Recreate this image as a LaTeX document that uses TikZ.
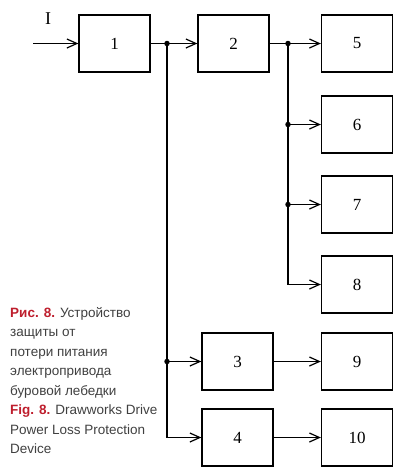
\documentclass[tikz,border=0pt]{standalone}
\usepackage{fontspec}
\setmainfont{Liberation Serif}
\newfontfamily\capfont{Liberation Sans}
\usetikzlibrary{arrows.meta, positioning}
\definecolor{figred}{RGB}{190,30,45}

\begin{document}
\begin{tikzpicture}[x=1pt,y=-1pt,
  blk/.style={draw,line width=1.3pt,minimum width=71pt,minimum height=57pt,inner sep=0pt,font=\fontsize{17}{17}\selectfont},
  arr/.style={-{Straight Barb[length=10pt,width=9pt]},line width=1.2pt},
  jdot/.style={circle,fill,inner sep=0pt,minimum size=5.5pt},
  capt/.style={anchor=north west,align=left,inner sep=0pt,font=\capfont\fontsize{13.5}{19.5}\selectfont,text=black!75}]
\useasboundingbox (0,0) rectangle (400,475);
% blocks
\node[blk] (b1) at (114.5,43.5) {1};
\node[blk] (b2) at (233.5,43.5) {2};
\node[blk] (b5) at (357,43.5) {5};
\node[blk] (b6) at (357,124.5) {6};
\node[blk] (b7) at (357,204.5) {7};
\node[blk] (b8) at (357,284.5) {8};
\node[blk] (b3) at (237.5,361.5) {3};
\node[blk] (b9) at (357,361.5) {9};
\node[blk] (b4) at (237.5,437.5) {4};
\node[blk] (b10) at (357,437.5) {10};
% branch points
\coordinate (in) at (33,43.5);
\node[jdot] (j1) at (167,43.5) {};
\node[jdot] (j2) at (288,43.5) {};
\node[jdot] (j6) at (j2 |- b6) {};
\node[jdot] (j7) at (j2 |- b7) {};
\node[jdot] (j3) at (j1 |- b3) {};
\node[font=\fontsize{18}{18}\selectfont] (lin) at (48,19) {I};
% connections
\draw[arr] (in) -- (b1);
\draw[arr] (b1) -- (b2);
\draw[arr] (b2) -- (b5);
\draw[arr] (j2.center) |- (b8);
\draw[arr] (j6.center) -- (b6);
\draw[arr] (j7.center) -- (b7);
\draw[arr] (j1.center) |- (b4);
\draw[arr] (j3.center) -- (b3);
\draw[arr] (b3) -- (b9);
\draw[arr] (b4) -- (b10);
% caption
\node[capt] (cru) at (10,307) {\textcolor{figred}{\bfseries Рис. 8.} Устройство\\защиты от\\потери питания\\электропривода\\буровой лебедки};
\node[capt] (cen) at (10,405) {\textcolor{figred}{\bfseries Fig. 8.} Drawworks Drive\\Power Loss Protection\\Device};
\end{tikzpicture}
\end{document}
